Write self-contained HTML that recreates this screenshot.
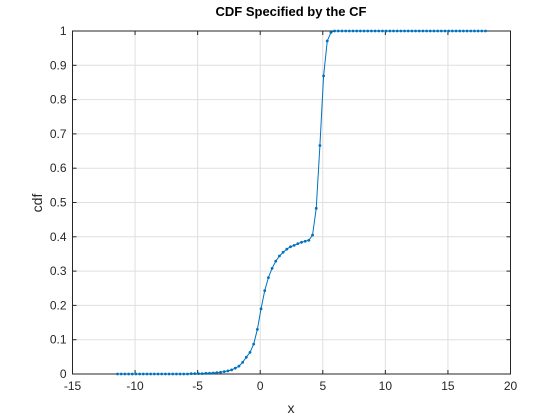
<!DOCTYPE html>
<html><head><meta charset="utf-8"><style>
body{margin:0;background:#fff;}
svg{display:block;font-family:"Liberation Sans",Arial,sans-serif;}
</style></head><body>
<svg id="chart" width="560" height="420">
<rect width="560" height="420" fill="#fff"/>
<g id="grid"></g>
<g id="axes"></g>
<g id="series"></g>
<text x="291" y="16" text-anchor="middle" font-size="13" font-weight="bold" fill="#000">CDF Specified by the CF</text>
<text x="291" y="413" text-anchor="middle" font-size="14" fill="#262626">x</text>
<text x="0" y="0" transform="translate(42,203) rotate(-90)" text-anchor="middle" font-size="14" fill="#262626">cdf</text>
</svg>
<script>
const xTicks=[-15,-10,-5,0,5,10,15,20];
const yTicks=[0,0.1,0.2,0.3,0.4,0.5,0.6,0.7,0.8,0.9,1];
const yTickLabels=["0","0.1","0.2","0.3","0.4","0.5","0.6","0.7","0.8","0.9","1"];
const xStart=-11.4, xEnd=18, nPts=101;
const cdfValues=[0,0,0,0,0,0,0,0,0,0,0,0,0,0,0,0,0,0,0,0,0.001,0.001,0.001,0.001,0.002,0.002,0.003,0.004,0.005,
0.007,0.009,0.012,0.017,0.023,0.034,0.049,0.063,0.087,0.130,0.19,0.243,0.281,0.308,0.329,0.344,0.355,0.364,0.371,0.375,0.380,0.384,0.387,0.390,0.405,0.483,0.666,0.869,0.971,0.996];
while(cdfValues.length<nPts) cdfValues.push(1);

const L=72.5,R=510.5,T=31,B=374;
const sx=v=>L+(v+15)/35*(R-L);
const sy=v=>B-v*(B-T);
const NS="http://www.w3.org/2000/svg";
function mk(tag,attrs,parent){const e=document.createElementNS(NS,tag);for(const k in attrs)e.setAttribute(k,attrs[k]);parent.appendChild(e);return e;}
const grid=document.getElementById('grid'),axes=document.getElementById('axes'),series=document.getElementById('series');
xTicks.forEach(t=>{
 const g=mk('line',{x1:sx(t),x2:sx(t),y1:T,y2:B,stroke:'#dfdfdf','stroke-width':1},grid);
 
 
 const a=mk('line',{x1:sx(t),x2:sx(t),y1:B,y2:B-4,stroke:'#262626','stroke-width':1},axes);
 
 
 const b=mk('line',{x1:sx(t),x2:sx(t),y1:T,y2:T+4,stroke:'#262626','stroke-width':1},axes);
 
 
 const l=mk('text',{x:sx(t),y:B+16,'text-anchor':'middle','font-size':12,fill:'#262626'},axes);
 l.textContent=String(t);
 
 
});
yTicks.forEach((t,i)=>{
 const g=mk('line',{x1:L,x2:R,y1:sy(t),y2:sy(t),stroke:'#dfdfdf','stroke-width':1},grid);
 
 
 const a=mk('line',{x1:L,x2:L+4,y1:sy(t),y2:sy(t),stroke:'#262626','stroke-width':1},axes);
 
 
 const b=mk('line',{x1:R,x2:R-4,y1:sy(t),y2:sy(t),stroke:'#262626','stroke-width':1},axes);
 
 
 const l=mk('text',{x:L-6,y:sy(t)+4,'text-anchor':'end','font-size':12,fill:'#262626'},axes);
 l.textContent=yTickLabels[i];
 
 
});
const box=mk('rect',{x:L,y:T,width:R-L,height:B-T,fill:'none',stroke:'#262626','stroke-width':1},axes);


let d='';
const pts=[];
for(let i=0;i<nPts;i++){const xv=xStart+(xEnd-xStart)*i/(nPts-1);pts.push([sx(xv),sy(cdfValues[i])]);}
pts.forEach((p,i)=>{d+=(i?'L':'M')+p[0].toFixed(2)+','+p[1].toFixed(2);});
const line=mk('path',{d:d,fill:'none',stroke:'#0072bd','stroke-width':1},series);


pts.forEach(p=>{
 const c=mk('circle',{cx:p[0],cy:p[1],r:1.4,fill:'#0072bd'},series);
 
 
});
</script>
</body></html>
